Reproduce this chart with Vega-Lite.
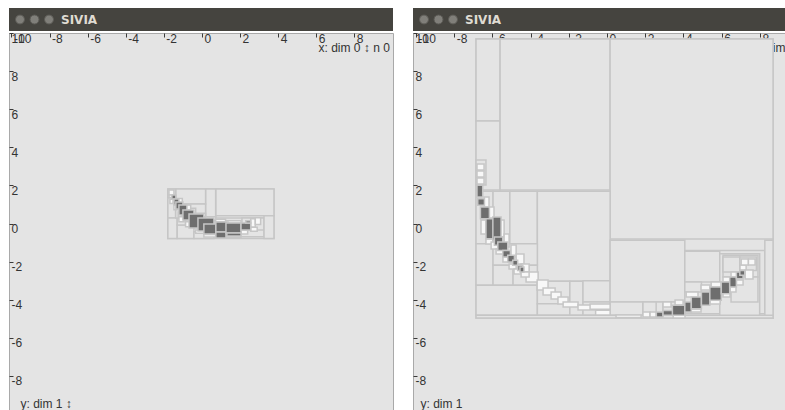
{
"$schema": "https://vega.github.io/schema/vega-lite/v6.json",
"background": "white",
"padding": {"left": 8, "top": 8, "right": 0, "bottom": 0},
"spacing": 18,
"config": {
  "font": "Liberation Sans",
  "view": {"fill": "#e4e4e4", "stroke": "#a9a9a9"}
},
"datasets": {
"bar": [{"item": "close", "role": "button"}, {"item": "minimize", "role": "button"}, {"item": "maximize", "role": "button"}, {"item": "SIVIA", "role": "label"}],
"left": [
{"x1":-1.79,"x2":3.78,"y1":-0.78,"y2":1.81,"kind":"out"},
{"x1":0.72,"x2":3.78,"y1":0.41,"y2":1.81,"kind":"out"},
{"x1":0.19,"x2":0.72,"y1":0.29,"y2":1.81,"kind":"out"},
{"x1":-1.38,"x2":0.19,"y1":1.02,"y2":1.81,"kind":"out"},
{"x1":-0.86,"x2":0.19,"y1":0.29,"y2":1.02,"kind":"out"},
{"x1":-1.79,"x2":-1.38,"y1":1.35,"y2":1.81,"kind":"out"},
{"x1":-1.79,"x2":-1.38,"y1":0.29,"y2":1.35,"kind":"out"},
{"x1":-1.79,"x2":-1.30,"y1":-0.78,"y2":0.29,"kind":"out"},
{"x1":-1.30,"x2":-0.42,"y1":-0.78,"y2":-0.08,"kind":"out"},
{"x1":-0.42,"x2":0.63,"y1":-0.78,"y2":-0.43,"kind":"out"},
{"x1":0.63,"x2":3.26,"y1":-0.69,"y2":0.29,"kind":"out"},
{"x1":2.10,"x2":3.26,"y1":-0.34,"y2":0.29,"kind":"out"},
{"x1":3.26,"x2":3.78,"y1":-0.78,"y2":0.41,"kind":"out"},
{"x1":-1.30,"x2":-0.86,"y1":-0.08,"y2":0.29,"kind":"out"},
{"x1":-1.38,"x2":-0.86,"y1":0.29,"y2":1.02,"kind":"out"},
{"x1":-1.73,"x2":-1.47,"y1":1.50,"y2":1.76,"kind":"boundary"},
{"x1":-1.73,"x2":-1.40,"y1":1.36,"y2":1.50,"kind":"boundary"},
{"x1":-1.30,"x2":-1.03,"y1":1.06,"y2":1.32,"kind":"boundary"},
{"x1":-0.86,"x2":-0.59,"y1":0.71,"y2":0.97,"kind":"boundary"},
{"x1":-0.59,"x2":-0.33,"y1":0.54,"y2":0.80,"kind":"boundary"},
{"x1":-0.33,"x2":0.19,"y1":0.36,"y2":0.54,"kind":"boundary"},
{"x1":0.19,"x2":0.72,"y1":0.18,"y2":0.36,"kind":"boundary"},
{"x1":0.72,"x2":1.24,"y1":0.09,"y2":0.22,"kind":"boundary"},
{"x1":1.26,"x2":2.05,"y1":0.03,"y2":0.15,"kind":"boundary"},
{"x1":2.56,"x2":2.80,"y1":-0.20,"y2":0.25,"kind":"boundary"},
{"x1":2.80,"x2":3.08,"y1":-0.05,"y2":0.30,"kind":"boundary"},
{"x1":2.56,"x2":2.90,"y1":-0.40,"y2":-0.20,"kind":"boundary"},
{"x1":-1.68,"x2":-1.52,"y1":1.05,"y2":1.28,"kind":"boundary"},
{"x1":-1.47,"x2":-1.30,"y1":0.72,"y2":0.97,"kind":"boundary"},
{"x1":-1.25,"x2":-1.05,"y1":0.30,"y2":0.60,"kind":"boundary"},
{"x1":-1.21,"x2":-0.94,"y1":0.09,"y2":0.36,"kind":"boundary"},
{"x1":-0.86,"x2":-0.59,"y1":-0.17,"y2":0.09,"kind":"boundary"},
{"x1":-0.33,"x2":0.10,"y1":-0.51,"y2":-0.34,"kind":"boundary"},
{"x1":0.10,"x2":0.72,"y1":-0.71,"y2":-0.57,"kind":"boundary"},
{"x1":1.26,"x2":2.05,"y1":-0.72,"y2":-0.60,"kind":"boundary"},
{"x1":2.05,"x2":2.40,"y1":-0.55,"y2":-0.34,"kind":"boundary"},
{"x1":-1.58,"x2":-1.37,"y1":1.29,"y2":1.50,"kind":"in"},
{"x1":-1.47,"x2":-1.21,"y1":0.97,"y2":1.29,"kind":"in"},
{"x1":-1.37,"x2":-1.00,"y1":0.76,"y2":1.13,"kind":"in"},
{"x1":-1.21,"x2":-0.79,"y1":0.45,"y2":0.97,"kind":"in"},
{"x1":-1.00,"x2":-0.42,"y1":0.18,"y2":0.71,"kind":"in"},
{"x1":-0.68,"x2":0.10,"y1":-0.24,"y2":0.50,"kind":"in"},
{"x1":-0.21,"x2":0.63,"y1":-0.39,"y2":0.29,"kind":"in"},
{"x1":0.10,"x2":0.73,"y1":-0.55,"y2":-0.03,"kind":"in"},
{"x1":0.73,"x2":1.37,"y1":-0.45,"y2":0.08,"kind":"in"},
{"x1":0.73,"x2":1.26,"y1":-0.76,"y2":-0.45,"kind":"in"},
{"x1":1.26,"x2":2.05,"y1":-0.50,"y2":0.03,"kind":"in"},
{"x1":1.31,"x2":2.05,"y1":-0.66,"y2":-0.50,"kind":"in"},
{"x1":2.05,"x2":2.56,"y1":-0.34,"y2":0.03,"kind":"in"},
{"x1":2.30,"x2":2.56,"y1":0.03,"y2":0.15,"kind":"in"}
],
"right": [
{"x1":-6.86,"x2":8.69,"y1":-4.96,"y2":9.69,"kind":"out"},
{"x1":-6.86,"x2":-5.60,"y1":5.38,"y2":9.69,"kind":"out"},
{"x1":-6.86,"x2":-5.60,"y1":1.76,"y2":5.38,"kind":"out"},
{"x1":-6.86,"x2":-6.34,"y1":2.02,"y2":3.33,"kind":"out"},
{"x1":-5.60,"x2":0.16,"y1":1.76,"y2":9.69,"kind":"out"},
{"x1":0.16,"x2":8.69,"y1":-0.81,"y2":9.69,"kind":"out"},
{"x1":-6.86,"x2":-5.97,"y1":-1.06,"y2":1.69,"kind":"out"},
{"x1":-5.97,"x2":-5.09,"y1":-1.06,"y2":1.69,"kind":"out"},
{"x1":-5.09,"x2":-3.65,"y1":-1.06,"y2":1.69,"kind":"out"},
{"x1":-3.65,"x2":0.16,"y1":-3.03,"y2":1.69,"kind":"out"},
{"x1":-6.86,"x2":-5.97,"y1":-3.24,"y2":-1.06,"kind":"out"},
{"x1":-5.97,"x2":-3.65,"y1":-2.19,"y2":-1.06,"kind":"out"},
{"x1":-5.97,"x2":-4.92,"y1":-3.24,"y2":-2.19,"kind":"out"},
{"x1":-4.92,"x2":-3.65,"y1":-3.24,"y2":-2.19,"kind":"out"},
{"x1":-6.86,"x2":-3.65,"y1":-4.82,"y2":-3.24,"kind":"out"},
{"x1":-3.65,"x2":-1.95,"y1":-4.21,"y2":-3.03,"kind":"out"},
{"x1":-3.65,"x2":-1.95,"y1":-4.82,"y2":-4.21,"kind":"out"},
{"x1":-1.95,"x2":-1.26,"y1":-4.82,"y2":-3.03,"kind":"out"},
{"x1":-1.26,"x2":0.16,"y1":-4.12,"y2":-3.00,"kind":"out"},
{"x1":-1.26,"x2":0.16,"y1":-4.82,"y2":-4.12,"kind":"out"},
{"x1":0.16,"x2":4.07,"y1":-4.12,"y2":-0.88,"kind":"out"},
{"x1":0.16,"x2":1.88,"y1":-4.82,"y2":-4.12,"kind":"out"},
{"x1":1.88,"x2":2.93,"y1":-4.82,"y2":-4.12,"kind":"out"},
{"x1":2.93,"x2":4.07,"y1":-4.82,"y2":-4.12,"kind":"out"},
{"x1":4.07,"x2":8.26,"y1":-4.74,"y2":-1.41,"kind":"out"},
{"x1":4.07,"x2":5.90,"y1":-3.07,"y2":-1.45,"kind":"out"},
{"x1":4.07,"x2":4.94,"y1":-3.60,"y2":-3.07,"kind":"out"},
{"x1":5.90,"x2":7.99,"y1":-4.96,"y2":-1.58,"kind":"out"},
{"x1":6.07,"x2":7.90,"y1":-2.81,"y2":-1.67,"kind":"out"},
{"x1":6.07,"x2":6.95,"y1":-2.55,"y2":-1.76,"kind":"out"},
{"x1":6.95,"x2":7.82,"y1":-2.46,"y2":-1.76,"kind":"out"},
{"x1":6.49,"x2":7.90,"y1":-4.12,"y2":-2.81,"kind":"out"},
{"x1":8.26,"x2":8.69,"y1":-4.96,"y2":-0.88,"kind":"out"},
{"x1":-6.86,"x2":8.69,"y1":-4.96,"y2":-4.82,"kind":"out"},
{"x1":1.88,"x2":2.57,"y1":-4.82,"y2":-4.12,"kind":"out"},
{"x1":-6.81,"x2":-6.44,"y1":2.81,"y2":3.12,"kind":"boundary"},
{"x1":-6.81,"x2":-6.44,"y1":2.44,"y2":2.76,"kind":"boundary"},
{"x1":-6.81,"x2":-6.44,"y1":2.07,"y2":2.39,"kind":"boundary"},
{"x1":-6.44,"x2":-6.18,"y1":0.87,"y2":1.39,"kind":"boundary"},
{"x1":-6.18,"x2":-5.92,"y1":0.29,"y2":0.87,"kind":"boundary"},
{"x1":-5.65,"x2":-5.39,"y1":-0.71,"y2":0.18,"kind":"boundary"},
{"x1":-5.39,"x2":-5.13,"y1":-1.23,"y2":-0.55,"kind":"boundary"},
{"x1":-5.03,"x2":-4.76,"y1":-1.76,"y2":-1.13,"kind":"boundary"},
{"x1":-4.76,"x2":-4.35,"y1":-2.13,"y2":-1.60,"kind":"boundary"},
{"x1":-4.50,"x2":-4.08,"y1":-2.55,"y2":-2.13,"kind":"boundary"},
{"x1":-4.24,"x2":-3.61,"y1":-3.07,"y2":-2.55,"kind":"boundary"},
{"x1":-6.60,"x2":-6.34,"y1":-0.55,"y2":0.18,"kind":"boundary"},
{"x1":-6.34,"x2":-5.97,"y1":-1.08,"y2":-0.81,"kind":"boundary"},
{"x1":-6.07,"x2":-5.71,"y1":-1.34,"y2":-0.97,"kind":"boundary"},
{"x1":-5.81,"x2":-5.45,"y1":-1.60,"y2":-1.34,"kind":"boundary"},
{"x1":-5.45,"x2":-5.03,"y1":-2.02,"y2":-1.76,"kind":"boundary"},
{"x1":-5.13,"x2":-4.76,"y1":-2.39,"y2":-2.13,"kind":"boundary"},
{"x1":-4.87,"x2":-4.50,"y1":-2.65,"y2":-2.39,"kind":"boundary"},
{"x1":-4.50,"x2":-4.08,"y1":-2.81,"y2":-2.55,"kind":"boundary"},
{"x1":-3.66,"x2":-3.09,"y1":-3.49,"y2":-2.97,"kind":"boundary"},
{"x1":-3.35,"x2":-2.72,"y1":-3.75,"y2":-3.39,"kind":"boundary"},
{"x1":-2.93,"x2":-2.41,"y1":-3.96,"y2":-3.60,"kind":"boundary"},
{"x1":-2.57,"x2":-2.04,"y1":-4.23,"y2":-3.86,"kind":"boundary"},
{"x1":-2.30,"x2":-1.52,"y1":-4.38,"y2":-4.12,"kind":"boundary"},
{"x1":-1.52,"x2":-0.21,"y1":-4.54,"y2":-4.28,"kind":"boundary"},
{"x1":-0.89,"x2":0.16,"y1":-4.50,"y2":-4.23,"kind":"boundary"},
{"x1":-0.60,"x2":0.16,"y1":-4.80,"y2":-4.55,"kind":"boundary"},
{"x1":0.47,"x2":1.78,"y1":-4.93,"y2":-4.80,"kind":"boundary"},
{"x1":1.88,"x2":2.25,"y1":-4.91,"y2":-4.65,"kind":"boundary"},
{"x1":2.25,"x2":2.57,"y1":-4.91,"y2":-4.65,"kind":"boundary"},
{"x1":2.93,"x2":3.35,"y1":-4.38,"y2":-4.12,"kind":"boundary"},
{"x1":3.56,"x2":3.98,"y1":-4.28,"y2":-4.02,"kind":"boundary"},
{"x1":4.14,"x2":4.76,"y1":-3.86,"y2":-3.60,"kind":"boundary"},
{"x1":4.92,"x2":5.39,"y1":-3.49,"y2":-3.23,"kind":"boundary"},
{"x1":5.45,"x2":5.97,"y1":-3.33,"y2":-3.07,"kind":"boundary"},
{"x1":6.07,"x2":6.44,"y1":-3.07,"y2":-2.81,"kind":"boundary"},
{"x1":6.49,"x2":6.86,"y1":-2.81,"y2":-2.55,"kind":"boundary"},
{"x1":6.96,"x2":7.28,"y1":-2.44,"y2":-2.18,"kind":"boundary"},
{"x1":7.02,"x2":7.40,"y1":-2.18,"y2":-1.86,"kind":"boundary"},
{"x1":7.40,"x2":7.75,"y1":-2.18,"y2":-1.86,"kind":"boundary"},
{"x1":7.23,"x2":7.64,"y1":-2.91,"y2":-2.44,"kind":"boundary"},
{"x1":3.46,"x2":4.08,"y1":-4.96,"y2":-4.82,"kind":"boundary"},
{"x1":4.40,"x2":4.92,"y1":-4.65,"y2":-4.49,"kind":"boundary"},
{"x1":5.39,"x2":5.92,"y1":-4.23,"y2":-4.02,"kind":"boundary"},
{"x1":6.07,"x2":6.44,"y1":-3.86,"y2":-3.60,"kind":"boundary"},
{"x1":6.44,"x2":6.75,"y1":-3.60,"y2":-3.33,"kind":"boundary"},
{"x1":6.77,"x2":7.12,"y1":-3.23,"y2":-2.97,"kind":"boundary"},
{"x1":-6.81,"x2":-6.51,"y1":1.39,"y2":2.01,"kind":"in"},
{"x1":-6.77,"x2":-6.42,"y1":0.96,"y2":1.30,"kind":"in"},
{"x1":-6.63,"x2":-6.16,"y1":0.25,"y2":0.87,"kind":"in"},
{"x1":-6.34,"x2":-5.94,"y1":-0.80,"y2":0.25,"kind":"in"},
{"x1":-5.98,"x2":-5.55,"y1":-0.88,"y2":0.34,"kind":"in"},
{"x1":-5.90,"x2":-5.46,"y1":-1.14,"y2":-0.71,"kind":"in"},
{"x1":-5.72,"x2":-5.20,"y1":-1.41,"y2":-0.97,"kind":"in"},
{"x1":-5.46,"x2":-5.06,"y1":-1.76,"y2":-1.41,"kind":"in"},
{"x1":-5.20,"x2":-4.85,"y1":-2.02,"y2":-1.67,"kind":"in"},
{"x1":-4.94,"x2":-4.68,"y1":-2.19,"y2":-1.93,"kind":"in"},
{"x1":-4.68,"x2":-4.41,"y1":-2.46,"y2":-2.19,"kind":"in"},
{"x1":-4.56,"x2":-4.35,"y1":-2.55,"y2":-2.28,"kind":"in"},
{"x1":2.58,"x2":2.93,"y1":-4.91,"y2":-4.65,"kind":"in"},
{"x1":2.93,"x2":3.46,"y1":-4.82,"y2":-4.56,"kind":"in"},
{"x1":3.42,"x2":4.07,"y1":-4.82,"y2":-4.29,"kind":"in"},
{"x1":4.07,"x2":4.41,"y1":-4.65,"y2":-4.12,"kind":"in"},
{"x1":4.41,"x2":4.94,"y1":-4.47,"y2":-3.86,"kind":"in"},
{"x1":4.94,"x2":5.38,"y1":-4.29,"y2":-3.60,"kind":"in"},
{"x1":5.38,"x2":5.98,"y1":-4.03,"y2":-3.33,"kind":"in"},
{"x1":5.98,"x2":6.42,"y1":-3.69,"y2":-3.07,"kind":"in"},
{"x1":6.42,"x2":6.77,"y1":-3.33,"y2":-2.81,"kind":"in"},
{"x1":6.77,"x2":7.12,"y1":-2.90,"y2":-2.55,"kind":"in"},
{"x1":6.95,"x2":7.21,"y1":-2.72,"y2":-2.46,"kind":"in"}
]
},
"hconcat": [
{
  "spacing": 0,
  "vconcat": [
    {
      "width": 384, "height": 23,
      "view": {"fill": "#45443f", "stroke": null},
      "data": {"name": "bar"},
      "encoding": {
        "x": {"field": "item", "type": "nominal", "sort": null, "scale": {"type": "point", "range": [11, 54.5], "padding": 0}, "axis": null}
      },
      "layer": [
        {"transform": [{"filter": "datum.role === 'button'"}],
         "mark": {"type": "point", "filled": true, "size": 80, "stroke": "#5c5b56", "strokeWidth": 1, "opacity": 1, "color": "#807f7a"}},
        {"transform": [{"filter": "datum.role === 'label'"}],
         "mark": {"type": "text", "align": "left", "baseline": "middle", "dx": -2.5, "font": "DejaVu Sans", "fontSize": 12, "fontWeight": "bold", "color": "#dfdbd2"},
         "encoding": {"text": {"field": "item"}}}
      ]
    },
    {
      "width": 384, "height": 378,
      "data": {"name": "left"},
      "mark": {"type": "rect", "stroke": "#c6c6c6", "strokeWidth": 1.5},
      "encoding": {
        "x": {"field": "x1", "type": "quantitative", "scale": {"domain": [-10.13, 10.03], "nice": false, "zero": false},
          "axis": {"orient": "top", "values": [-10,-8,-6,-4,-2,0,2,4,6,8], "labelExpr": "'' + datum.value", "domain": false, "grid": false, "tickSize": -4, "tickColor": "#3a3a3a", "labelAlign": "left", "labelBaseline": "top", "labelPadding": 4, "labelOffset": 2, "labelFontSize": 12, "labelColor": "#333333", "labelFlush": false, "labelOverlap": false,
            "title": "x: dim 0 ↕ n 0", "titleX": 309, "titleY": 14, "titleAlign": "left", "titleBaseline": "middle", "titleAngle": 0, "titleFontSize": 12, "titleFontWeight": "normal", "titleColor": "#333333"}},
        "x2": {"field": "x2"},
        "y": {"field": "y1", "type": "quantitative", "scale": {"domain": [-9.84, 10], "nice": false, "zero": false},
          "axis": {"orient": "left", "values": [-8,-6,-4,-2,0,2,4,6,8,10], "labelExpr": "'' + datum.value", "domain": false, "grid": false, "tickSize": -4, "tickColor": "#3a3a3a", "labelAlign": "left", "labelBaseline": "top", "labelPadding": 2, "labelFontSize": 12, "labelColor": "#333333", "labelFlush": false, "labelOverlap": false,
            "title": "y: dim 1 ↕", "titleX": 11, "titleY": 370, "titleAlign": "left", "titleBaseline": "middle", "titleAngle": 0, "titleFontSize": 12, "titleFontWeight": "normal", "titleColor": "#333333"}},
        "y2": {"field": "y2"},
        "fill": {"field": "kind", "type": "nominal", "scale": {"domain": ["in", "boundary", "out"], "range": ["#6e6e6e", "#f8f8f8", "#e4e4e4"]}, "legend": null}
      }
    }
  ]
},
{
  "spacing": 0,
  "vconcat": [
    {
      "width": 374, "height": 23,
      "view": {"fill": "#45443f", "stroke": null},
      "data": {"name": "bar"},
      "encoding": {
        "x": {"field": "item", "type": "nominal", "sort": null, "scale": {"type": "point", "range": [11, 54.5], "padding": 0}, "axis": null}
      },
      "layer": [
        {"transform": [{"filter": "datum.role === 'button'"}],
         "mark": {"type": "point", "filled": true, "size": 80, "stroke": "#5c5b56", "strokeWidth": 1, "opacity": 1, "color": "#807f7a"}},
        {"transform": [{"filter": "datum.role === 'label'"}],
         "mark": {"type": "text", "align": "left", "baseline": "middle", "dx": -2.5, "font": "DejaVu Sans", "fontSize": 12, "fontWeight": "bold", "color": "#dfdbd2"},
         "encoding": {"text": {"field": "item"}}}
      ]
    },
    {
      "width": 374, "height": 378,
      "data": {"name": "right"},
      "mark": {"type": "rect", "stroke": "#c6c6c6", "strokeWidth": 1.5},
      "encoding": {
        "x": {"field": "x1", "type": "quantitative", "scale": {"domain": [-10.16, 9.42], "nice": false, "zero": false},
          "axis": {"orient": "top", "values": [-10,-8,-6,-4,-2,0,2,4,6,8], "labelExpr": "'' + datum.value", "domain": false, "grid": false, "tickSize": -4, "tickColor": "#3a3a3a", "labelAlign": "left", "labelBaseline": "top", "labelPadding": 4, "labelOffset": 2, "labelFontSize": 12, "labelColor": "#333333", "labelFlush": false, "labelOverlap": false,
            "title": "x: dim", "titleX": 340, "titleY": 14, "titleAlign": "left", "titleBaseline": "middle", "titleAngle": 0, "titleFontSize": 12, "titleFontWeight": "normal", "titleColor": "#333333"}},
        "x2": {"field": "x2"},
        "y": {"field": "y1", "type": "quantitative", "scale": {"domain": [-9.84, 10], "nice": false, "zero": false},
          "axis": {"orient": "left", "values": [-8,-6,-4,-2,0,2,4,6,8,10], "labelExpr": "'' + datum.value", "domain": false, "grid": false, "tickSize": -4, "tickColor": "#3a3a3a", "labelAlign": "left", "labelBaseline": "top", "labelPadding": 2, "labelFontSize": 12, "labelColor": "#333333", "labelFlush": false, "labelOverlap": false,
            "title": "y: dim 1", "titleX": 7, "titleY": 370, "titleAlign": "left", "titleBaseline": "middle", "titleAngle": 0, "titleFontSize": 12, "titleFontWeight": "normal", "titleColor": "#333333"}},
        "y2": {"field": "y2"},
        "fill": {"field": "kind", "type": "nominal", "scale": {"domain": ["in", "boundary", "out"], "range": ["#6e6e6e", "#f8f8f8", "#e4e4e4"]}, "legend": null}
      }
    }
  ]
}
]
}
